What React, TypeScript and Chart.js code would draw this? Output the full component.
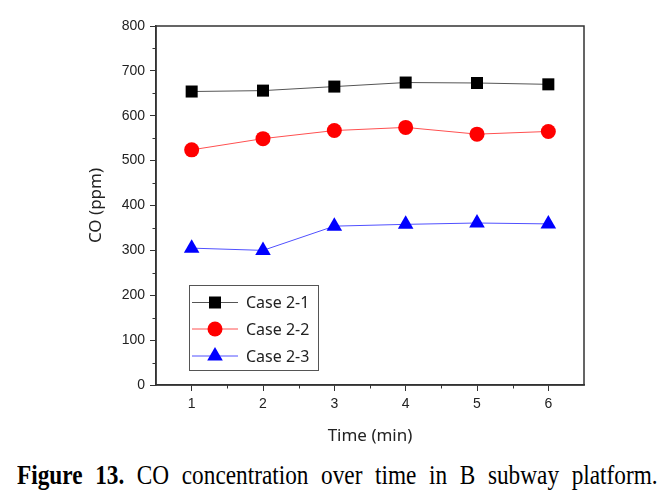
import React, { useEffect, useRef } from "react";
import { Chart, registerables } from "chart.js";

Chart.register(...registerables);

const timeMin = [1, 2, 3, 4, 5, 6];
const case21 = [654, 656, 665, 674, 673, 670];
const case22 = [524, 549, 567, 574, 559, 565];
const case23 = [305, 300, 354, 358, 361, 359];
const seriesLabels = ["Case 2-1", "Case 2-2", "Case 2-3"];
const yTicks = [0, 100, 200, 300, 400, 500, 600, 700, 800];
const xTicks = [1, 2, 3, 4, 5, 6];

const frameAndExtras = {
  id: "frameAndExtras",
  afterDraw(chart: any) {
    const { ctx, chartArea: a, scales } = chart;
    const xs = scales.x;
    const ys = scales.y;
    ctx.save();
    // frame
    ctx.strokeStyle = "#333";
    ctx.lineWidth = 1.5;
    ctx.strokeRect(a.left, a.top, a.right - a.left, a.bottom - a.top);
    // minor ticks
    ctx.lineWidth = 1;
    ctx.beginPath();
    for (let v = 50; v < 800; v += 100) {
      const py = Math.round(ys.getPixelForValue(v)) + 0.5;
      ctx.moveTo(a.left - 3.5, py);
      ctx.lineTo(a.left, py);
    }
    for (let v = 1.5; v < 6.5; v += 1) {
      const px = Math.round(xs.getPixelForValue(v)) + 0.5;
      ctx.moveTo(px, a.bottom);
      ctx.lineTo(px, a.bottom + 3.5);
    }
    ctx.stroke();
    // legend
    const bx = 189, by = 285, bw = 129, bh = 85;
    ctx.fillStyle = "#fff";
    ctx.fillRect(bx, by, bw, bh);
    ctx.strokeStyle = "#555";
    ctx.lineWidth = 1;
    ctx.strokeRect(bx + 0.5, by + 0.5, bw, bh);
    const rows = [302.5, 329, 356];
    chart.data.datasets.forEach((ds: any, i: number) => {
      const y = rows[i];
      ctx.strokeStyle = ds.borderColor;
      ctx.lineWidth = 1;
      ctx.beginPath();
      ctx.moveTo(192, y);
      ctx.lineTo(238, y);
      ctx.stroke();
      ctx.fillStyle = ds.pointBackgroundColor;
      ctx.beginPath();
      const cx = 215;
      if (ds.pointStyle === "rect") {
        ctx.rect(cx - 6, y - 6, 12, 12);
      } else if (ds.pointStyle === "circle") {
        ctx.arc(cx, y, 7.5, 0, Math.PI * 2);
      } else {
        ctx.moveTo(cx, y - 9);
        ctx.lineTo(cx + 7.8, y + 4.5);
        ctx.lineTo(cx - 7.8, y + 4.5);
        ctx.closePath();
      }
      ctx.fill();
      ctx.fillStyle = "#222";
      ctx.font = "16px 'Noto Sans'";
      ctx.textBaseline = "middle";
      ctx.textAlign = "left";
      ctx.fillText(ds.label, 246, y + 1);
    });
    ctx.restore();
  },
};

export default function App() {
  const ref = useRef<HTMLCanvasElement>(null);
  useEffect(() => {
    if (!ref.current) return;
    const chart = new Chart(ref.current, {
      type: "line",
      data: {
        datasets: [
          {
            label: seriesLabels[0],
            data: timeMin.map((t, i) => ({ x: t, y: case21[i] })),
            borderColor: "#555",
            pointBackgroundColor: "#000",
            pointBorderColor: "#000",
            pointStyle: "rect",
            pointRadius: 8.5,
            borderWidth: 1,
            pointBorderWidth: 0,
          },
          {
            label: seriesLabels[1],
            data: timeMin.map((t, i) => ({ x: t, y: case22[i] })),
            borderColor: "#ff5050",
            pointBackgroundColor: "#ff0000",
            pointBorderColor: "#ff0000",
            pointStyle: "circle",
            pointRadius: 7.5,
            borderWidth: 1,
            pointBorderWidth: 0,
          },
          {
            label: seriesLabels[2],
            data: timeMin.map((t, i) => ({ x: t, y: case23[i] })),
            borderColor: "#5050ff",
            pointBackgroundColor: "#0000ff",
            pointBorderColor: "#0000ff",
            pointStyle: "triangle",
            pointRadius: 9,
            borderWidth: 1,
            pointBorderWidth: 0,
          },
        ],
      },
      options: {
        animation: false,
        responsive: false,
        layout: { padding: { top: 26, right: 78, left: 0, bottom: 0 } },
        plugins: { legend: { display: false }, tooltip: { enabled: false } },
        scales: {
          x: {
            type: "linear",
            min: 0.5,
            max: 6.5,
            afterFit: (s: any) => { s.height = 70; },
            afterBuildTicks: (s: any) => { s.ticks = xTicks.map((v) => ({ value: v })); },
            border: { color: "#333", width: 1.5 },
            grid: { drawOnChartArea: false, tickLength: 6, color: "#333", tickColor: "#333" },
            ticks: { color: "#222", font: { family: "'Liberation Sans'", size: 14 }, padding: 5 },
            title: {
              display: true,
              text: "Time (min)",
              color: "#222",
              font: { family: "'Noto Sans'", size: 17 },
              padding: { bottom: 9, top: 0 },
            },
          },
          y: {
            min: 0,
            max: 800,
            afterFit: (s: any) => { s.width = 156; },
            afterBuildTicks: (s: any) => { s.ticks = yTicks.map((v) => ({ value: v })); },
            border: { color: "#333", width: 1.5 },
            grid: { drawOnChartArea: false, tickLength: 6, color: "#333", tickColor: "#333" },
            ticks: { color: "#222", font: { family: "'Liberation Sans'", size: 14 }, padding: 5 },
            title: {
              display: true,
              text: "CO (ppm)",
              color: "#222",
              font: { family: "'Noto Sans'", size: 17 },
              padding: { top: 86, bottom: 0 },
            },
          },
        },
      },
      plugins: [frameAndExtras],
    } as any);
    return () => chart.destroy();
  }, []);
  return (
    <div style={{ position: "absolute", left: 0, top: 0, width: 662, height: 502, background: "#fff" }}>
      <canvas ref={ref} width={662} height={455} style={{ display: "block" }} />
      <div
        style={{
          position: "absolute",
          left: 17,
          top: 459,
          fontFamily: "'Liberation Serif', serif",
          fontSize: 24,
          lineHeight: "28px",
          color: "#000",
          whiteSpace: "nowrap",
          wordSpacing: "7px",
          transform: "scale(0.97, 1.12)",
          transformOrigin: "top left",
        } as any}
      >
        <b>Figure 13.</b> CO concentration over time in B subway platform.
      </div>
    </div>
  );
}
